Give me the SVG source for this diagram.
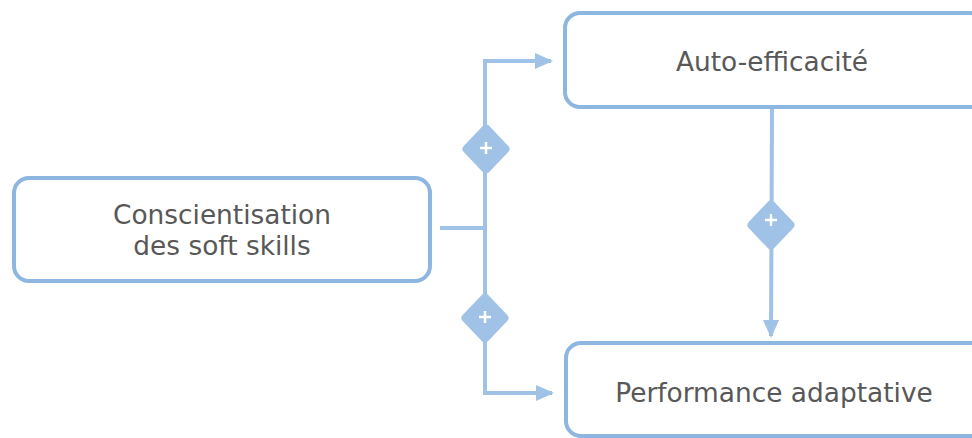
<svg xmlns="http://www.w3.org/2000/svg" width="972" height="438" viewBox="0 0 972 438">
<defs>
<style>
.box{fill:#fff;stroke:#8db6e1;stroke-width:4}
.lbl{font-family:"DejaVu Sans",Verdana,sans-serif;font-size:26.4px;fill:#585858;text-anchor:middle}
.ln{fill:none;stroke:#9fc2e6;stroke-width:4}
.dia{fill:#9fc2e6;stroke:#9fc2e6;stroke-width:9;stroke-linejoin:round}
.plus{stroke:#fff;stroke-width:2.5}
</style>
<marker id="ah" markerWidth="18" markerHeight="18" refX="16" refY="9" orient="auto" markerUnits="userSpaceOnUse" viewBox="0 0 18 18">
<path d="M0,1 L18,9 L0,17 Z" fill="#9fc2e6"/>
</marker>
</defs>
<rect width="972" height="438" fill="#fff"/>
<g id="connectors">
<path class="ln" d="M440,228 H485"/>
<path class="ln" d="M485,393 V61 H551" marker-end="url(#ah)"/>
<path class="ln" d="M485,300 V393 H552" marker-end="url(#ah)"/>
<path class="ln" d="M772,107 L771,336" marker-end="url(#ah)"/>
<g>
<path class="dia" d="M486,129 L505,149 L486,169 L467,149 Z"/>
<path class="plus" d="M480,148 H492 M486,142 V154"/>
</g>
<g>
<path class="dia" d="M485,298 L504,318 L485,338 L466,318 Z"/>
<path class="plus" d="M479,317 H491 M485,311 V323"/>
</g>
<g>
<path class="dia" d="M771,205 L790,225 L771,245 L752,225 Z"/>
<path class="plus" d="M765,220 H777 M771,214 V226"/>
</g>
</g>
<g id="node-conscientisation">
<rect class="box" x="14" y="178" width="416" height="103" rx="15"/>
<text class="lbl" x="222" y="224">Conscientisation</text>
<text class="lbl" x="222" y="255">des soft skills</text>
</g>
<g id="node-auto-efficacite">
<rect class="box" x="565" y="13" width="420" height="94" rx="15"/>
<text class="lbl" x="772" y="71">Auto-efficacité</text>
</g>
<g id="node-performance">
<rect class="box" x="566" y="343" width="420" height="93" rx="15"/>
<text class="lbl" x="774" y="402">Performance adaptative</text>
</g>
</svg>
